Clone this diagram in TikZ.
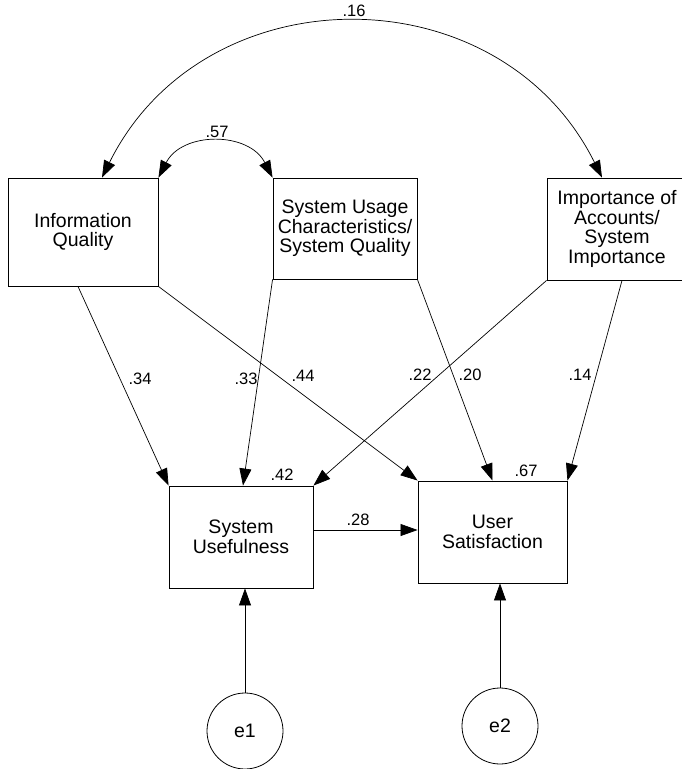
\documentclass[tikz,border=0pt]{standalone}
\usepackage{fontspec}
\setmainfont{Liberation Sans}
\usetikzlibrary{arrows.meta,calc}
\begin{document}
\begin{tikzpicture}[x=1pt,y=1pt,
  box/.style={draw, line width=0.9pt, inner sep=0pt, align=center, font=\fontsize{19.5}{19.5}\selectfont},
  err/.style={draw, circle, line width=0.8pt, minimum size=76pt, inner sep=0pt, font=\fontsize{19.5}{19.5}\selectfont},
  pathar/.style={line width=0.7pt, -{Triangle[length=17pt,width=12pt]}},
  cov/.style={line width=0.7pt, {Triangle[length=17pt,width=12pt]}-{Triangle[length=17pt,width=12pt]}},
  lab/.style={font=\fontsize{16.5}{17}\selectfont, inner sep=0pt}]
\useasboundingbox (0,0) rectangle (682,-769);

% boxes
\node[box, minimum width=150pt, minimum height=108pt] (iq) at (83,-232) {Information\\Quality};
\node[box, minimum width=144pt, minimum height=101pt] (su) at (345,-228.5) {System Usage\\Characteristics/\\System Quality};
\node[box, minimum width=140pt, minimum height=102pt] (imp) at (617,-229) {Importance of\\Accounts/\\System\\Importance};
\node[box, minimum width=144pt, minimum height=102pt] (sue) at (241,-537) {System\\Usefulness};
\node[box, minimum width=149pt, minimum height=102pt] (us) at (492.5,-532) {User\\Satisfaction};
\node[err] (e1) at (245,-731) {e1};
\node[err] (e2) at (500,-726) {e2};

% covariances
\draw[cov] ([xshift=19pt]iq.north) to[out=63.6, in=116.4, looseness=1.18] ([xshift=-15pt]imp.north);
\draw[cov] (iq.north east) to[out=62.7, in=117.3, looseness=1.17] (su.north west);

% paths
\draw[pathar] ([xshift=-5pt]iq.south) -- (sue.north west);
\draw[pathar] (iq.south east) -- (us.north west);
\draw[pathar] (su.south west) -- ([xshift=2pt]sue.north);
\draw[pathar] (su.south east) -- (us.north);
\draw[pathar] (imp.south west) -- (sue.north east);
\draw[pathar] ([xshift=5pt]imp.south) -- (us.north east);
\coordinate (h) at ([yshift=7pt]sue.east);
\draw[pathar] (h) -- (h -| us.west);
\draw[pathar] (e1.north) -- (e1.north |- sue.south);
\draw[pathar] (e2.north) -- (e2.north |- us.south);

% labels
\node[lab] (l16) at (354,-11) {.16};
\node[lab] (l57) at (217,-132) {.57};
\node[lab] (l34) at (140,-379) {.34};
\node[lab] (l33) at (246,-379) {.33};
\node[lab] (l44) at (303,-376) {.44};
\node[lab] (l22) at (420,-375) {.22};
\node[lab] (l20) at (470,-375) {.20};
\node[lab] (l14) at (580,-375) {.14};
\node[lab] (l42) at (282,-475) {.42};
\node[lab] (l67) at (526,-471) {.67};
\node[lab] (l28) at (358,-520) {.28};
\end{tikzpicture}
\end{document}
